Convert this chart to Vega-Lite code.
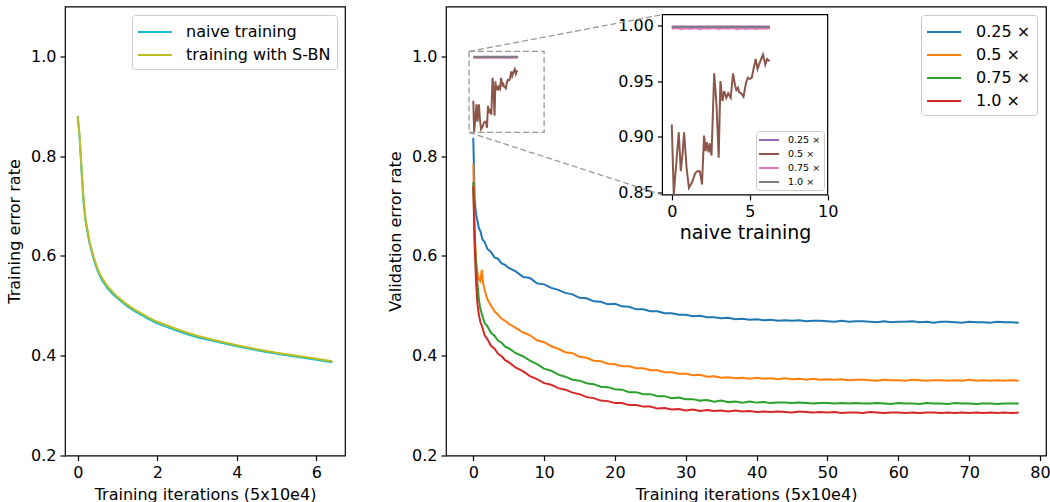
{
  "$schema": "https://vega.github.io/schema/vega-lite/v6.json",
  "padding": {"left": 5, "top": 5.5, "right": 0, "bottom": 0},
  "background": "white",
  "spacing": 40,
  "config": {
    "font": "DejaVu Sans",
    "view": {"stroke": "black", "strokeWidth": 1.2},
    "axis": {"grid": false, "domain": false, "tickColor": "black", "tickSize": 5, "tickWidth": 1.2, "labelFontSize": 16, "labelColor": "black", "labelFont": "DejaVu Sans", "titleFont": "DejaVu Sans", "titleFontSize": 16, "titleFontWeight": "normal", "titleColor": "black", "labelPadding": 4, "minExtent": 0, "labelFlush": false, "labelOverlap": false},
    "legend": {"orient": "none", "title": null, "symbolStrokeWidth": 2, "labelFont": "DejaVu Sans", "labelColor": "black", "fillColor": "white", "strokeColor": "#cccccc", "cornerRadius": 3}
  },
  "datasets": {
    "left": [
      {"s":"naive training","x":0,"y":0.880},{"s":"naive training","x":0.05,"y":0.835},{"s":"naive training","x":0.1,"y":0.765},{"s":"naive training","x":0.15,"y":0.705},{"s":"naive training","x":0.2,"y":0.668},{"s":"naive training","x":0.3,"y":0.624},{"s":"naive training","x":0.4,"y":0.594},{"s":"naive training","x":0.5,"y":0.570},{"s":"naive training","x":0.6,"y":0.553},{"s":"naive training","x":0.75,"y":0.535},{"s":"naive training","x":0.9,"y":0.522},{"s":"naive training","x":1.0,"y":0.515},{"s":"naive training","x":1.2,"y":0.502},{"s":"naive training","x":1.4,"y":0.491},{"s":"naive training","x":1.6,"y":0.482},{"s":"naive training","x":1.8,"y":0.473},{"s":"naive training","x":2.0,"y":0.465},{"s":"naive training","x":2.2,"y":0.459},{"s":"naive training","x":2.5,"y":0.450},{"s":"naive training","x":2.8,"y":0.442},{"s":"naive training","x":3.0,"y":0.437},{"s":"naive training","x":3.5,"y":0.428},{"s":"naive training","x":4.0,"y":0.419},{"s":"naive training","x":4.5,"y":0.411},{"s":"naive training","x":5.0,"y":0.404},{"s":"naive training","x":5.5,"y":0.398},{"s":"naive training","x":6.0,"y":0.392},{"s":"naive training","x":6.4,"y":0.387},
      {"s":"training with S-BN","x":0,"y":0.881},{"s":"training with S-BN","x":0.05,"y":0.838},{"s":"training with S-BN","x":0.1,"y":0.770},{"s":"training with S-BN","x":0.15,"y":0.710},{"s":"training with S-BN","x":0.2,"y":0.672},{"s":"training with S-BN","x":0.3,"y":0.628},{"s":"training with S-BN","x":0.4,"y":0.598},{"s":"training with S-BN","x":0.5,"y":0.574},{"s":"training with S-BN","x":0.6,"y":0.557},{"s":"training with S-BN","x":0.75,"y":0.539},{"s":"training with S-BN","x":0.9,"y":0.526},{"s":"training with S-BN","x":1.0,"y":0.518},{"s":"training with S-BN","x":1.2,"y":0.505},{"s":"training with S-BN","x":1.4,"y":0.494},{"s":"training with S-BN","x":1.6,"y":0.485},{"s":"training with S-BN","x":1.8,"y":0.476},{"s":"training with S-BN","x":2.0,"y":0.468},{"s":"training with S-BN","x":2.2,"y":0.462},{"s":"training with S-BN","x":2.5,"y":0.453},{"s":"training with S-BN","x":2.8,"y":0.445},{"s":"training with S-BN","x":3.0,"y":0.440},{"s":"training with S-BN","x":3.5,"y":0.430},{"s":"training with S-BN","x":4.0,"y":0.421},{"s":"training with S-BN","x":4.5,"y":0.413},{"s":"training with S-BN","x":5.0,"y":0.406},{"s":"training with S-BN","x":5.5,"y":0.400},{"s":"training with S-BN","x":6.0,"y":0.394},{"s":"training with S-BN","x":6.4,"y":0.389}
    ],
    "main": [
      {"s":"0.25 ×","x":0,"y":0.837},{"s":"0.25 ×","x":0.2,"y":0.712},{"s":"0.25 ×","x":0.4,"y":0.683},{"s":"0.25 ×","x":0.6,"y":0.670},{"s":"0.25 ×","x":0.8,"y":0.655},{"s":"0.25 ×","x":1,"y":0.650},{"s":"0.25 ×","x":1.3,"y":0.633},{"s":"0.25 ×","x":1.6,"y":0.628},{"s":"0.25 ×","x":2,"y":0.614},{"s":"0.25 ×","x":2.5,"y":0.608},{"s":"0.25 ×","x":3,"y":0.597},{"s":"0.25 ×","x":3.5,"y":0.594},{"s":"0.25 ×","x":4,"y":0.585},{"s":"0.25 ×","x":4.5,"y":0.582},{"s":"0.25 ×","x":5,"y":0.576},{"s":"0.25 ×","x":6,"y":0.569},{"s":"0.25 ×","x":7,"y":0.558},{"s":"0.25 ×","x":8,"y":0.556},{"s":"0.25 ×","x":9,"y":0.545},{"s":"0.25 ×","x":10,"y":0.543},{"s":"0.25 ×","x":11,"y":0.536},{"s":"0.25 ×","x":12,"y":0.532},{"s":"0.25 ×","x":13,"y":0.526},{"s":"0.25 ×","x":14,"y":0.523},{"s":"0.25 ×","x":15,"y":0.516},{"s":"0.25 ×","x":16,"y":0.515},{"s":"0.25 ×","x":17,"y":0.509},{"s":"0.25 ×","x":18,"y":0.508},{"s":"0.25 ×","x":19,"y":0.503},{"s":"0.25 ×","x":20,"y":0.504},{"s":"0.25 ×","x":21,"y":0.499},{"s":"0.25 ×","x":22,"y":0.498},{"s":"0.25 ×","x":23,"y":0.493},{"s":"0.25 ×","x":24,"y":0.493},{"s":"0.25 ×","x":25,"y":0.489},{"s":"0.25 ×","x":26,"y":0.489},{"s":"0.25 ×","x":27,"y":0.485},{"s":"0.25 ×","x":28,"y":0.485},{"s":"0.25 ×","x":29,"y":0.482},{"s":"0.25 ×","x":30,"y":0.482},{"s":"0.25 ×","x":31,"y":0.479},{"s":"0.25 ×","x":32,"y":0.480},{"s":"0.25 ×","x":33,"y":0.477},{"s":"0.25 ×","x":34,"y":0.477},{"s":"0.25 ×","x":35,"y":0.475},{"s":"0.25 ×","x":36,"y":0.476},{"s":"0.25 ×","x":37,"y":0.473},{"s":"0.25 ×","x":38,"y":0.474},{"s":"0.25 ×","x":39,"y":0.472},{"s":"0.25 ×","x":40,"y":0.473},{"s":"0.25 ×","x":41,"y":0.471},{"s":"0.25 ×","x":42,"y":0.472},{"s":"0.25 ×","x":43,"y":0.470},{"s":"0.25 ×","x":44,"y":0.471},{"s":"0.25 ×","x":45,"y":0.470},{"s":"0.25 ×","x":46,"y":0.471},{"s":"0.25 ×","x":47,"y":0.469},{"s":"0.25 ×","x":48,"y":0.470},{"s":"0.25 ×","x":49,"y":0.470},{"s":"0.25 ×","x":50,"y":0.469},{"s":"0.25 ×","x":51,"y":0.468},{"s":"0.25 ×","x":52,"y":0.470},{"s":"0.25 ×","x":53,"y":0.468},{"s":"0.25 ×","x":54,"y":0.469},{"s":"0.25 ×","x":55,"y":0.469},{"s":"0.25 ×","x":56,"y":0.468},{"s":"0.25 ×","x":57,"y":0.467},{"s":"0.25 ×","x":58,"y":0.469},{"s":"0.25 ×","x":59,"y":0.467},{"s":"0.25 ×","x":60,"y":0.468},{"s":"0.25 ×","x":61,"y":0.468},{"s":"0.25 ×","x":62,"y":0.469},{"s":"0.25 ×","x":63,"y":0.467},{"s":"0.25 ×","x":64,"y":0.468},{"s":"0.25 ×","x":65,"y":0.466},{"s":"0.25 ×","x":66,"y":0.468},{"s":"0.25 ×","x":67,"y":0.468},{"s":"0.25 ×","x":68,"y":0.467},{"s":"0.25 ×","x":69,"y":0.466},{"s":"0.25 ×","x":70,"y":0.468},{"s":"0.25 ×","x":71,"y":0.467},{"s":"0.25 ×","x":72,"y":0.467},{"s":"0.25 ×","x":73,"y":0.466},{"s":"0.25 ×","x":74,"y":0.468},{"s":"0.25 ×","x":75,"y":0.467},{"s":"0.25 ×","x":76,"y":0.467},{"s":"0.25 ×","x":77,"y":0.466},
      {"s":"0.5 ×","x":0,"y":0.785},{"s":"0.5 ×","x":0.2,"y":0.640},{"s":"0.5 ×","x":0.4,"y":0.592},{"s":"0.5 ×","x":0.6,"y":0.566},{"s":"0.5 ×","x":0.8,"y":0.553},{"s":"0.5 ×","x":1,"y":0.549},{"s":"0.5 ×","x":1.2,"y":0.572},{"s":"0.5 ×","x":1.4,"y":0.545},{"s":"0.5 ×","x":1.6,"y":0.531},{"s":"0.5 ×","x":2,"y":0.513},{"s":"0.5 ×","x":2.5,"y":0.500},{"s":"0.5 ×","x":3,"y":0.489},{"s":"0.5 ×","x":3.5,"y":0.482},{"s":"0.5 ×","x":4,"y":0.474},{"s":"0.5 ×","x":4.5,"y":0.470},{"s":"0.5 ×","x":5,"y":0.464},{"s":"0.5 ×","x":6,"y":0.456},{"s":"0.5 ×","x":7,"y":0.447},{"s":"0.5 ×","x":8,"y":0.441},{"s":"0.5 ×","x":9,"y":0.431},{"s":"0.5 ×","x":10,"y":0.427},{"s":"0.5 ×","x":11,"y":0.419},{"s":"0.5 ×","x":12,"y":0.414},{"s":"0.5 ×","x":13,"y":0.407},{"s":"0.5 ×","x":14,"y":0.405},{"s":"0.5 ×","x":15,"y":0.398},{"s":"0.5 ×","x":16,"y":0.396},{"s":"0.5 ×","x":17,"y":0.390},{"s":"0.5 ×","x":18,"y":0.389},{"s":"0.5 ×","x":19,"y":0.384},{"s":"0.5 ×","x":20,"y":0.383},{"s":"0.5 ×","x":21,"y":0.379},{"s":"0.5 ×","x":22,"y":0.379},{"s":"0.5 ×","x":23,"y":0.375},{"s":"0.5 ×","x":24,"y":0.375},{"s":"0.5 ×","x":25,"y":0.371},{"s":"0.5 ×","x":26,"y":0.371},{"s":"0.5 ×","x":27,"y":0.367},{"s":"0.5 ×","x":28,"y":0.367},{"s":"0.5 ×","x":29,"y":0.364},{"s":"0.5 ×","x":30,"y":0.364},{"s":"0.5 ×","x":31,"y":0.361},{"s":"0.5 ×","x":32,"y":0.362},{"s":"0.5 ×","x":33,"y":0.358},{"s":"0.5 ×","x":34,"y":0.359},{"s":"0.5 ×","x":35,"y":0.356},{"s":"0.5 ×","x":36,"y":0.357},{"s":"0.5 ×","x":37,"y":0.355},{"s":"0.5 ×","x":38,"y":0.356},{"s":"0.5 ×","x":39,"y":0.354},{"s":"0.5 ×","x":40,"y":0.356},{"s":"0.5 ×","x":41,"y":0.354},{"s":"0.5 ×","x":42,"y":0.355},{"s":"0.5 ×","x":43,"y":0.353},{"s":"0.5 ×","x":44,"y":0.355},{"s":"0.5 ×","x":45,"y":0.353},{"s":"0.5 ×","x":46,"y":0.354},{"s":"0.5 ×","x":47,"y":0.352},{"s":"0.5 ×","x":48,"y":0.354},{"s":"0.5 ×","x":49,"y":0.352},{"s":"0.5 ×","x":50,"y":0.353},{"s":"0.5 ×","x":51,"y":0.352},{"s":"0.5 ×","x":52,"y":0.353},{"s":"0.5 ×","x":53,"y":0.351},{"s":"0.5 ×","x":54,"y":0.352},{"s":"0.5 ×","x":55,"y":0.352},{"s":"0.5 ×","x":56,"y":0.351},{"s":"0.5 ×","x":57,"y":0.350},{"s":"0.5 ×","x":58,"y":0.352},{"s":"0.5 ×","x":59,"y":0.351},{"s":"0.5 ×","x":60,"y":0.351},{"s":"0.5 ×","x":61,"y":0.350},{"s":"0.5 ×","x":62,"y":0.352},{"s":"0.5 ×","x":63,"y":0.351},{"s":"0.5 ×","x":64,"y":0.350},{"s":"0.5 ×","x":65,"y":0.351},{"s":"0.5 ×","x":66,"y":0.351},{"s":"0.5 ×","x":67,"y":0.350},{"s":"0.5 ×","x":68,"y":0.351},{"s":"0.5 ×","x":69,"y":0.350},{"s":"0.5 ×","x":70,"y":0.352},{"s":"0.5 ×","x":71,"y":0.350},{"s":"0.5 ×","x":72,"y":0.351},{"s":"0.5 ×","x":73,"y":0.350},{"s":"0.5 ×","x":74,"y":0.351},{"s":"0.5 ×","x":75,"y":0.350},{"s":"0.5 ×","x":76,"y":0.351},{"s":"0.5 ×","x":77,"y":0.350},
      {"s":"0.75 ×","x":0,"y":0.748},{"s":"0.75 ×","x":0.2,"y":0.640},{"s":"0.75 ×","x":0.4,"y":0.577},{"s":"0.75 ×","x":0.6,"y":0.543},{"s":"0.75 ×","x":0.8,"y":0.512},{"s":"0.75 ×","x":1,"y":0.494},{"s":"0.75 ×","x":1.3,"y":0.479},{"s":"0.75 ×","x":1.6,"y":0.466},{"s":"0.75 ×","x":2,"y":0.459},{"s":"0.75 ×","x":2.5,"y":0.446},{"s":"0.75 ×","x":3,"y":0.440},{"s":"0.75 ×","x":3.5,"y":0.430},{"s":"0.75 ×","x":4,"y":0.426},{"s":"0.75 ×","x":4.5,"y":0.418},{"s":"0.75 ×","x":5,"y":0.415},{"s":"0.75 ×","x":6,"y":0.405},{"s":"0.75 ×","x":7,"y":0.399},{"s":"0.75 ×","x":8,"y":0.390},{"s":"0.75 ×","x":9,"y":0.383},{"s":"0.75 ×","x":10,"y":0.374},{"s":"0.75 ×","x":11,"y":0.370},{"s":"0.75 ×","x":12,"y":0.362},{"s":"0.75 ×","x":13,"y":0.358},{"s":"0.75 ×","x":14,"y":0.352},{"s":"0.75 ×","x":15,"y":0.350},{"s":"0.75 ×","x":16,"y":0.345},{"s":"0.75 ×","x":17,"y":0.343},{"s":"0.75 ×","x":18,"y":0.338},{"s":"0.75 ×","x":19,"y":0.337},{"s":"0.75 ×","x":20,"y":0.333},{"s":"0.75 ×","x":21,"y":0.332},{"s":"0.75 ×","x":22,"y":0.327},{"s":"0.75 ×","x":23,"y":0.327},{"s":"0.75 ×","x":24,"y":0.323},{"s":"0.75 ×","x":25,"y":0.323},{"s":"0.75 ×","x":26,"y":0.319},{"s":"0.75 ×","x":27,"y":0.319},{"s":"0.75 ×","x":28,"y":0.315},{"s":"0.75 ×","x":29,"y":0.316},{"s":"0.75 ×","x":30,"y":0.313},{"s":"0.75 ×","x":31,"y":0.313},{"s":"0.75 ×","x":32,"y":0.310},{"s":"0.75 ×","x":33,"y":0.311},{"s":"0.75 ×","x":34,"y":0.308},{"s":"0.75 ×","x":35,"y":0.310},{"s":"0.75 ×","x":36,"y":0.307},{"s":"0.75 ×","x":37,"y":0.308},{"s":"0.75 ×","x":38,"y":0.306},{"s":"0.75 ×","x":39,"y":0.308},{"s":"0.75 ×","x":40,"y":0.306},{"s":"0.75 ×","x":41,"y":0.307},{"s":"0.75 ×","x":42,"y":0.305},{"s":"0.75 ×","x":43,"y":0.306},{"s":"0.75 ×","x":44,"y":0.306},{"s":"0.75 ×","x":45,"y":0.305},{"s":"0.75 ×","x":46,"y":0.306},{"s":"0.75 ×","x":47,"y":0.305},{"s":"0.75 ×","x":48,"y":0.304},{"s":"0.75 ×","x":49,"y":0.305},{"s":"0.75 ×","x":50,"y":0.305},{"s":"0.75 ×","x":51,"y":0.304},{"s":"0.75 ×","x":52,"y":0.305},{"s":"0.75 ×","x":53,"y":0.304},{"s":"0.75 ×","x":54,"y":0.305},{"s":"0.75 ×","x":55,"y":0.304},{"s":"0.75 ×","x":56,"y":0.304},{"s":"0.75 ×","x":57,"y":0.305},{"s":"0.75 ×","x":58,"y":0.304},{"s":"0.75 ×","x":59,"y":0.303},{"s":"0.75 ×","x":60,"y":0.305},{"s":"0.75 ×","x":61,"y":0.304},{"s":"0.75 ×","x":62,"y":0.304},{"s":"0.75 ×","x":63,"y":0.303},{"s":"0.75 ×","x":64,"y":0.305},{"s":"0.75 ×","x":65,"y":0.304},{"s":"0.75 ×","x":66,"y":0.304},{"s":"0.75 ×","x":67,"y":0.303},{"s":"0.75 ×","x":68,"y":0.305},{"s":"0.75 ×","x":69,"y":0.304},{"s":"0.75 ×","x":70,"y":0.304},{"s":"0.75 ×","x":71,"y":0.303},{"s":"0.75 ×","x":72,"y":0.304},{"s":"0.75 ×","x":73,"y":0.304},{"s":"0.75 ×","x":74,"y":0.303},{"s":"0.75 ×","x":75,"y":0.304},{"s":"0.75 ×","x":76,"y":0.304},{"s":"0.75 ×","x":77,"y":0.304},
      {"s":"1.0 ×","x":0,"y":0.740},{"s":"1.0 ×","x":0.2,"y":0.618},{"s":"1.0 ×","x":0.4,"y":0.546},{"s":"1.0 ×","x":0.6,"y":0.503},{"s":"1.0 ×","x":0.8,"y":0.481},{"s":"1.0 ×","x":1,"y":0.468},{"s":"1.0 ×","x":1.3,"y":0.456},{"s":"1.0 ×","x":1.6,"y":0.441},{"s":"1.0 ×","x":2,"y":0.433},{"s":"1.0 ×","x":2.5,"y":0.420},{"s":"1.0 ×","x":3,"y":0.414},{"s":"1.0 ×","x":3.5,"y":0.404},{"s":"1.0 ×","x":4,"y":0.399},{"s":"1.0 ×","x":4.5,"y":0.391},{"s":"1.0 ×","x":5,"y":0.387},{"s":"1.0 ×","x":6,"y":0.376},{"s":"1.0 ×","x":7,"y":0.369},{"s":"1.0 ×","x":8,"y":0.359},{"s":"1.0 ×","x":9,"y":0.353},{"s":"1.0 ×","x":10,"y":0.345},{"s":"1.0 ×","x":11,"y":0.342},{"s":"1.0 ×","x":12,"y":0.335},{"s":"1.0 ×","x":13,"y":0.332},{"s":"1.0 ×","x":14,"y":0.326},{"s":"1.0 ×","x":15,"y":0.323},{"s":"1.0 ×","x":16,"y":0.317},{"s":"1.0 ×","x":17,"y":0.315},{"s":"1.0 ×","x":18,"y":0.310},{"s":"1.0 ×","x":19,"y":0.309},{"s":"1.0 ×","x":20,"y":0.305},{"s":"1.0 ×","x":21,"y":0.305},{"s":"1.0 ×","x":22,"y":0.301},{"s":"1.0 ×","x":23,"y":0.301},{"s":"1.0 ×","x":24,"y":0.298},{"s":"1.0 ×","x":25,"y":0.298},{"s":"1.0 ×","x":26,"y":0.294},{"s":"1.0 ×","x":27,"y":0.295},{"s":"1.0 ×","x":28,"y":0.292},{"s":"1.0 ×","x":29,"y":0.293},{"s":"1.0 ×","x":30,"y":0.290},{"s":"1.0 ×","x":31,"y":0.292},{"s":"1.0 ×","x":32,"y":0.289},{"s":"1.0 ×","x":33,"y":0.291},{"s":"1.0 ×","x":34,"y":0.289},{"s":"1.0 ×","x":35,"y":0.290},{"s":"1.0 ×","x":36,"y":0.288},{"s":"1.0 ×","x":37,"y":0.290},{"s":"1.0 ×","x":38,"y":0.288},{"s":"1.0 ×","x":39,"y":0.289},{"s":"1.0 ×","x":40,"y":0.287},{"s":"1.0 ×","x":41,"y":0.288},{"s":"1.0 ×","x":42,"y":0.287},{"s":"1.0 ×","x":43,"y":0.288},{"s":"1.0 ×","x":44,"y":0.287},{"s":"1.0 ×","x":45,"y":0.286},{"s":"1.0 ×","x":46,"y":0.288},{"s":"1.0 ×","x":47,"y":0.287},{"s":"1.0 ×","x":48,"y":0.286},{"s":"1.0 ×","x":49,"y":0.287},{"s":"1.0 ×","x":50,"y":0.286},{"s":"1.0 ×","x":51,"y":0.287},{"s":"1.0 ×","x":52,"y":0.285},{"s":"1.0 ×","x":53,"y":0.286},{"s":"1.0 ×","x":54,"y":0.286},{"s":"1.0 ×","x":55,"y":0.285},{"s":"1.0 ×","x":56,"y":0.287},{"s":"1.0 ×","x":57,"y":0.286},{"s":"1.0 ×","x":58,"y":0.285},{"s":"1.0 ×","x":59,"y":0.286},{"s":"1.0 ×","x":60,"y":0.286},{"s":"1.0 ×","x":61,"y":0.285},{"s":"1.0 ×","x":62,"y":0.286},{"s":"1.0 ×","x":63,"y":0.285},{"s":"1.0 ×","x":64,"y":0.286},{"s":"1.0 ×","x":65,"y":0.286},{"s":"1.0 ×","x":66,"y":0.285},{"s":"1.0 ×","x":67,"y":0.286},{"s":"1.0 ×","x":68,"y":0.285},{"s":"1.0 ×","x":69,"y":0.286},{"s":"1.0 ×","x":70,"y":0.285},{"s":"1.0 ×","x":71,"y":0.286},{"s":"1.0 ×","x":72,"y":0.285},{"s":"1.0 ×","x":73,"y":0.286},{"s":"1.0 ×","x":74,"y":0.285},{"s":"1.0 ×","x":75,"y":0.286},{"s":"1.0 ×","x":76,"y":0.285},{"s":"1.0 ×","x":77,"y":0.286}
    ],
    "zoombox": [{"x":-0.6,"x2":10,"y":0.8476,"y2":1.0099}],
    "connectors": [{"x":-0.6,"y":1.0099,"x2":26.7,"y2":1.0837},{"x":-0.6,"y":0.8476,"x2":26.7,"y2":0.7223}],
    "frame": [{"x":26.7,"x2":50.03,"y":0.7223,"y2":1.0837}],
    "inset": [
      {"s":"0.25 ×","x":0,"y":0.9992},{"s":"0.25 ×","x":0.3,"y":0.9993},{"s":"0.25 ×","x":0.6,"y":0.9991},{"s":"0.25 ×","x":0.9,"y":0.9993},{"s":"0.25 ×","x":1.2,"y":0.9992},{"s":"0.25 ×","x":1.5,"y":0.9991},{"s":"0.25 ×","x":1.8,"y":0.9993},{"s":"0.25 ×","x":2.1,"y":0.9992},{"s":"0.25 ×","x":2.4,"y":0.9992},{"s":"0.25 ×","x":2.7,"y":0.9991},{"s":"0.25 ×","x":3.0,"y":0.9993},{"s":"0.25 ×","x":3.3,"y":0.9992},{"s":"0.25 ×","x":3.6,"y":0.9991},{"s":"0.25 ×","x":3.9,"y":0.9993},{"s":"0.25 ×","x":4.2,"y":0.9992},{"s":"0.25 ×","x":4.5,"y":0.9992},{"s":"0.25 ×","x":4.8,"y":0.9991},{"s":"0.25 ×","x":5.1,"y":0.9993},{"s":"0.25 ×","x":5.4,"y":0.9992},{"s":"0.25 ×","x":5.7,"y":0.9991},{"s":"0.25 ×","x":6.0,"y":0.9992},{"s":"0.25 ×","x":6.3,"y":0.9992},
      {"s":"0.5 ×","x":0,"y":0.911},{"s":"0.5 ×","x":0.13,"y":0.848},{"s":"0.5 ×","x":0.45,"y":0.904},{"s":"0.5 ×","x":0.58,"y":0.869},{"s":"0.5 ×","x":0.7,"y":0.886},{"s":"0.5 ×","x":0.79,"y":0.904},{"s":"0.5 ×","x":0.95,"y":0.872},{"s":"0.5 ×","x":1.1,"y":0.854},{"s":"0.5 ×","x":1.3,"y":0.859},{"s":"0.5 ×","x":1.5,"y":0.867},{"s":"0.5 ×","x":1.65,"y":0.869},{"s":"0.5 ×","x":1.8,"y":0.869},{"s":"0.5 ×","x":1.94,"y":0.857},{"s":"0.5 ×","x":2.07,"y":0.901},{"s":"0.5 ×","x":2.17,"y":0.887},{"s":"0.5 ×","x":2.26,"y":0.895},{"s":"0.5 ×","x":2.36,"y":0.886},{"s":"0.5 ×","x":2.45,"y":0.894},{"s":"0.5 ×","x":2.55,"y":0.883},{"s":"0.5 ×","x":2.72,"y":0.957},{"s":"0.5 ×","x":2.87,"y":0.929},{"s":"0.5 ×","x":3.01,"y":0.881},{"s":"0.5 ×","x":3.12,"y":0.95},{"s":"0.5 ×","x":3.25,"y":0.932},{"s":"0.5 ×","x":3.36,"y":0.941},{"s":"0.5 ×","x":3.5,"y":0.935},{"s":"0.5 ×","x":3.62,"y":0.939},{"s":"0.5 ×","x":3.78,"y":0.935},{"s":"0.5 ×","x":3.93,"y":0.957},{"s":"0.5 ×","x":4.05,"y":0.947},{"s":"0.5 ×","x":4.14,"y":0.942},{"s":"0.5 ×","x":4.25,"y":0.944},{"s":"0.5 ×","x":4.32,"y":0.94},{"s":"0.5 ×","x":4.45,"y":0.939},{"s":"0.5 ×","x":4.6,"y":0.936},{"s":"0.5 ×","x":4.77,"y":0.949},{"s":"0.5 ×","x":4.88,"y":0.953},{"s":"0.5 ×","x":5.0,"y":0.952},{"s":"0.5 ×","x":5.13,"y":0.953},{"s":"0.5 ×","x":5.26,"y":0.962},{"s":"0.5 ×","x":5.38,"y":0.97},{"s":"0.5 ×","x":5.5,"y":0.961},{"s":"0.5 ×","x":5.65,"y":0.967},{"s":"0.5 ×","x":5.85,"y":0.974},{"s":"0.5 ×","x":6.0,"y":0.965},{"s":"0.5 ×","x":6.12,"y":0.97},{"s":"0.5 ×","x":6.28,"y":0.968},
      {"s":"0.75 ×","x":0,"y":0.9972},{"s":"0.75 ×","x":0.3,"y":0.9978},{"s":"0.75 ×","x":0.6,"y":0.9968},{"s":"0.75 ×","x":0.9,"y":0.9976},{"s":"0.75 ×","x":1.2,"y":0.997},{"s":"0.75 ×","x":1.5,"y":0.9979},{"s":"0.75 ×","x":1.8,"y":0.9967},{"s":"0.75 ×","x":2.1,"y":0.9975},{"s":"0.75 ×","x":2.4,"y":0.9971},{"s":"0.75 ×","x":2.7,"y":0.9978},{"s":"0.75 ×","x":3.0,"y":0.9969},{"s":"0.75 ×","x":3.3,"y":0.9976},{"s":"0.75 ×","x":3.6,"y":0.9972},{"s":"0.75 ×","x":3.9,"y":0.9979},{"s":"0.75 ×","x":4.2,"y":0.9968},{"s":"0.75 ×","x":4.5,"y":0.9975},{"s":"0.75 ×","x":4.8,"y":0.997},{"s":"0.75 ×","x":5.1,"y":0.9977},{"s":"0.75 ×","x":5.4,"y":0.9969},{"s":"0.75 ×","x":5.7,"y":0.9976},{"s":"0.75 ×","x":6.0,"y":0.9972},{"s":"0.75 ×","x":6.3,"y":0.9977},
      {"s":"1.0 ×","x":0,"y":0.9988},{"s":"1.0 ×","x":0.3,"y":0.9986},{"s":"1.0 ×","x":0.6,"y":0.9989},{"s":"1.0 ×","x":0.9,"y":0.9987},{"s":"1.0 ×","x":1.2,"y":0.9988},{"s":"1.0 ×","x":1.5,"y":0.9986},{"s":"1.0 ×","x":1.8,"y":0.9989},{"s":"1.0 ×","x":2.1,"y":0.9987},{"s":"1.0 ×","x":2.4,"y":0.9988},{"s":"1.0 ×","x":2.7,"y":0.9987},{"s":"1.0 ×","x":3.0,"y":0.9989},{"s":"1.0 ×","x":3.3,"y":0.9986},{"s":"1.0 ×","x":3.6,"y":0.9988},{"s":"1.0 ×","x":3.9,"y":0.9987},{"s":"1.0 ×","x":4.2,"y":0.9989},{"s":"1.0 ×","x":4.5,"y":0.9986},{"s":"1.0 ×","x":4.8,"y":0.9988},{"s":"1.0 ×","x":5.1,"y":0.9987},{"s":"1.0 ×","x":5.4,"y":0.9988},{"s":"1.0 ×","x":5.7,"y":0.9986},{"s":"1.0 ×","x":6.0,"y":0.9988},{"s":"1.0 ×","x":6.3,"y":0.9987}
    ]
  },
  "hconcat": [
    {
      "width": 280,
      "height": 449,
      "data": {"name": "left"},
      "mark": {"type": "line", "strokeWidth": 2},
      "encoding": {
        "x": {"field": "x", "type": "quantitative", "scale": {"domain": [-0.32, 6.72], "nice": false, "zero": false}, "axis": {"values": [0, 2, 4, 6], "title": "Training iterations (5x10e4)", "titlePadding": 6}},
        "y": {"field": "y", "type": "quantitative", "scale": {"domain": [0.2, 1.1], "nice": false, "zero": false}, "axis": {"values": [0.2, 0.4, 0.6, 0.8, 1.0], "format": ".1f", "title": "Training error rate", "titlePadding": 8}},
        "color": {"field": "s", "type": "nominal", "scale": {"domain": ["naive training", "training with S-BN"], "range": ["#17becf", "#bcbd22"]}, "legend": {"legendX": 67, "legendY": 8.5, "labelFontSize": 16, "symbolType": "M-1.7,0H1.7", "symbolSize": 400, "symbolOffset": 6, "padding": 6, "labelOffset": 20, "rowPadding": 4}}
      }
    },
    {
      "width": 600,
      "height": 449,
      "layer": [
        {
          "layer": [
            {
              "data": {"name": "main"},
              "mark": {"type": "line", "strokeWidth": 2},
              "encoding": {
                "x": {"field": "x", "type": "quantitative", "scale": {"domain": [-3.85, 80.85], "nice": false, "zero": false}, "axis": {"values": [0, 10, 20, 30, 40, 50, 60, 70, 80], "title": "Training iterations (5x10e4)", "titlePadding": 6}},
                "y": {"field": "y", "type": "quantitative", "scale": {"domain": [0.2, 1.1], "nice": false, "zero": false}, "axis": {"values": [0.2, 0.4, 0.6, 0.8, 1.0], "format": ".1f", "title": "Validation error rate", "titlePadding": 8}},
                "color": {"field": "s", "type": "nominal", "scale": {"domain": ["0.25 ×", "0.5 ×", "0.75 ×", "1.0 ×"], "range": ["#1f77b4", "#ff7f0e", "#2ca02c", "#d62728"]}, "legend": {"legendX": 475, "legendY": 8.5, "labelFontSize": 16, "symbolType": "M-1.7,0H1.7", "symbolSize": 400, "symbolOffset": 6, "padding": 6, "labelOffset": 21, "rowPadding": 4}}
              }
            },
            {
              "data": {"name": "inset"},
              "mark": {"type": "line", "strokeWidth": 2},
              "encoding": {
                "x": {"field": "x", "type": "quantitative"},
                "y": {"field": "y", "type": "quantitative"},
                "stroke": {"field": "s", "type": "nominal", "scale": {"domain": ["0.25 ×", "0.5 ×", "0.75 ×", "1.0 ×"], "range": ["#9467bd", "#8c564b", "#e377c2", "#7f7f7f"]}, "legend": null}
              }
            },
            {
              "data": {"name": "zoombox"},
              "mark": {"type": "rect", "filled": false, "stroke": "#999999", "strokeWidth": 1.3, "strokeDash": [6, 3]},
              "encoding": {
                "x": {"field": "x", "type": "quantitative"},
                "x2": {"field": "x2"},
                "y": {"field": "y", "type": "quantitative"},
                "y2": {"field": "y2"}
              }
            },
            {
              "data": {"name": "connectors"},
              "mark": {"type": "rule", "stroke": "#999999", "strokeWidth": 1.3, "strokeDash": [6, 3]},
              "encoding": {
                "x": {"field": "x", "type": "quantitative"},
                "x2": {"field": "x2"},
                "y": {"field": "y", "type": "quantitative"},
                "y2": {"field": "y2"}
              }
            },
            {
              "data": {"name": "frame"},
              "mark": {"type": "rect", "fill": "white", "stroke": "black", "strokeWidth": 1.2},
              "encoding": {
                "x": {"field": "x", "type": "quantitative"},
                "x2": {"field": "x2"},
                "y": {"field": "y", "type": "quantitative"},
                "y2": {"field": "y2"}
              }
            }
          ]
        },
        {
          "data": {"name": "inset"},
          "mark": {"type": "line", "strokeWidth": 2},
          "encoding": {
            "x": {"field": "x", "type": "quantitative", "scale": {"domain": [-0.6, 10], "range": [216.4, 381.7], "nice": false, "zero": false}, "axis": {"orient": "bottom", "offset": -260.6, "values": [0, 5, 10], "title": "naive training", "titleFontSize": 19, "titlePadding": 4}},
            "y": {"field": "y", "type": "quantitative", "scale": {"domain": [0.8476, 1.0099], "range": [188.4, 8.1], "nice": false, "zero": false}, "axis": {"orient": "left", "offset": -216.4, "values": [0.85, 0.9, 0.95, 1.0], "format": ".2f", "title": null}},
            "color": {"field": "s", "type": "nominal", "scale": {"domain": ["0.25 ×", "0.5 ×", "0.75 ×", "1.0 ×"], "range": ["#9467bd", "#8c564b", "#e377c2", "#7f7f7f"]}, "legend": {"legendX": 310, "legendY": 124.5, "labelFontSize": 9.5, "symbolType": "M-2,0H2", "symbolSize": 100, "symbolOffset": 4, "padding": 3, "labelOffset": 13, "rowPadding": 3}}
          }
        }
      ],
      "resolve": {"scale": {"x": "independent", "y": "independent", "color": "independent"}, "axis": {"x": "independent", "y": "independent"}, "legend": {"color": "independent"}}
    }
  ]
}
